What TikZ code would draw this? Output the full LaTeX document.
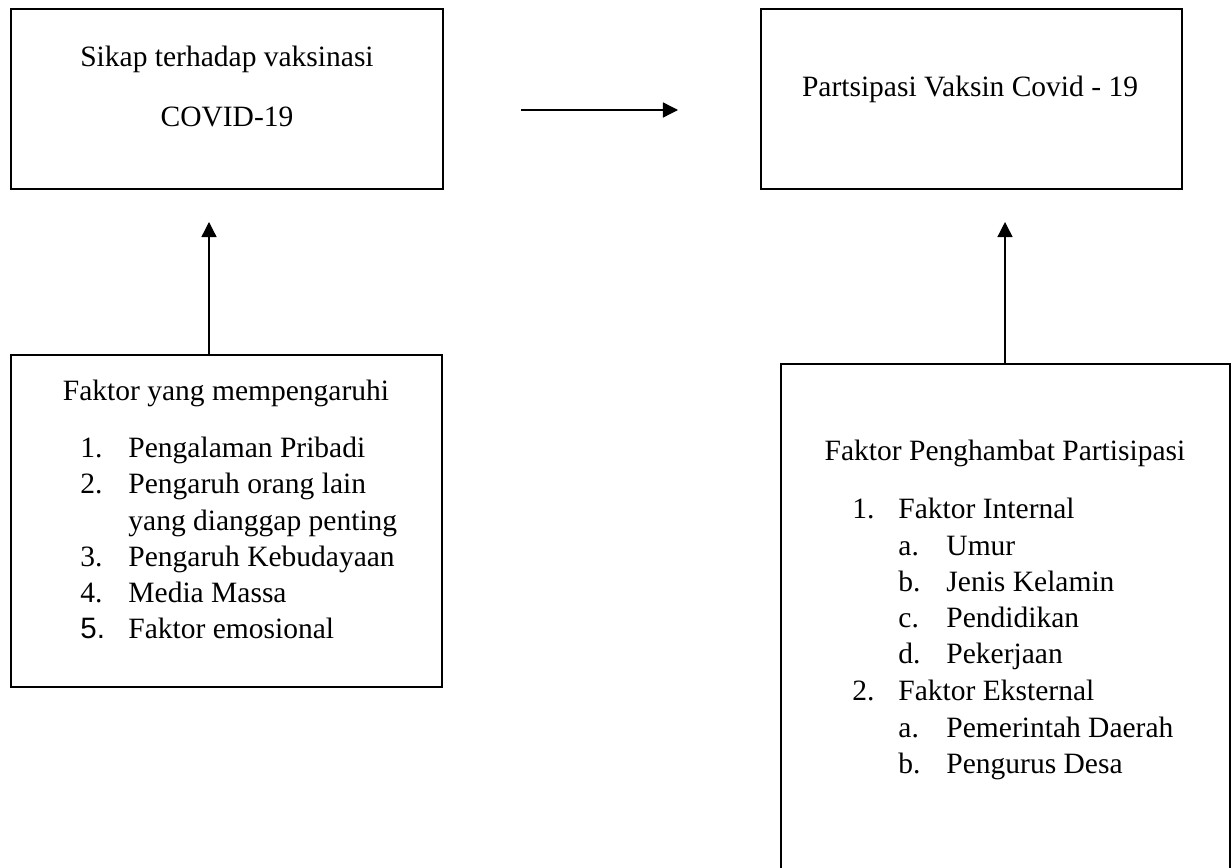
\documentclass[tikz,border=0pt]{standalone}
\usepackage{fontspec}
\setmainfont{Liberation Serif}
\newfontfamily\sansf{Liberation Sans}
\usetikzlibrary{arrows.meta,fit}
\begin{document}
\begin{tikzpicture}[x=0.444pt,y=-0.444pt,
  box/.style={draw,line width=0.9pt,inner sep=0pt,rectangle},
  arr/.style={line width=0.6pt,-{Triangle[length=6.7pt,width=6.7pt]}},
  txt/.style={inner sep=0pt,font=\fontsize{13.1}{16}\selectfont},
  lw/.style={txt,anchor=base west},
  ct/.style={txt,anchor=base}]
\clip (0,0) rectangle (1231,868);
\fill[white] (0,0) rectangle (1231,868);
% boxes
\node[box,fit={(11,9) (443,189)}] (b1) {};
\node[box,fit={(761,9) (1182,189)}] (b2) {};
\node[box,fit={(11,355) (442,687)}] (b3) {};
\node[box,fit={(781,364) (1230,890)}] (b4) {};
% box 1 text
\node[ct] (t1a) at (227,67) {Sikap terhadap vaksinasi};
\node[ct] (t1b) at (227,127) {COVID-19};
% box 2 text
\node[ct] (t2) at (970,97) {Partsipasi Vaksin Covid - 19};
% box 3 text
\node[ct] (t3h) at (226,400) {Faktor yang mempengaruhi};
\node[lw] (n31) at (80,457) {1.};
\node[lw] (i31) at (128,457) {Pengalaman Pribadi};
\node[lw] (n32) at (80,493) {2.};
\node[lw] (i32) at (128,493) {Pengaruh orang lain};
\node[lw] (i32b) at (128,530) {yang dianggap penting};
\node[lw] (n33) at (80,566) {3.};
\node[lw] (i33) at (128,566) {Pengaruh Kebudayaan};
\node[lw] (n34) at (80,602) {4.};
\node[lw] (i34) at (128,602) {Media Massa};
\node[lw] (n35) at (80,638) {\sansf 5.};
\node[lw] (i35) at (128,638) {Faktor emosional};
% box 4 text
\node[ct] (t4h) at (1005,460) {Faktor Penghambat Partisipasi};
\node[lw] (n41) at (852,518) {1.};
\node[lw] (i41) at (898,518) {Faktor Internal};
\node[lw] (a41) at (898,555) {a.};
\node[lw] (s41) at (946,555) {Umur};
\node[lw] (a42) at (898,591) {b.};
\node[lw] (s42) at (946,591) {Jenis Kelamin};
\node[lw] (a43) at (898,627) {c.};
\node[lw] (s43) at (946,627) {Pendidikan};
\node[lw] (a44) at (898,663) {d.};
\node[lw] (s44) at (946,663) {Pekerjaan};
\node[lw] (n42) at (852,700) {2.};
\node[lw] (i42) at (898,700) {Faktor Eksternal};
\node[lw] (a45) at (898,737) {a.};
\node[lw] (s45) at (946,737) {Pemerintah Daerah};
\node[lw] (a46) at (898,773) {b.};
\node[lw] (s46) at (946,773) {Pengurus Desa};
% connectors
\coordinate (hA) at (521,110);
\coordinate (hB) at (678,110);
\draw[arr] (hA) -- (hB);
\coordinate (tipL) at (209,222);
\draw[arr] (tipL |- b3.north) -- (tipL);
\coordinate (tipR) at (1005,222);
\draw[arr] (tipR |- b4.north) -- (tipR);
\end{tikzpicture}
\end{document}
